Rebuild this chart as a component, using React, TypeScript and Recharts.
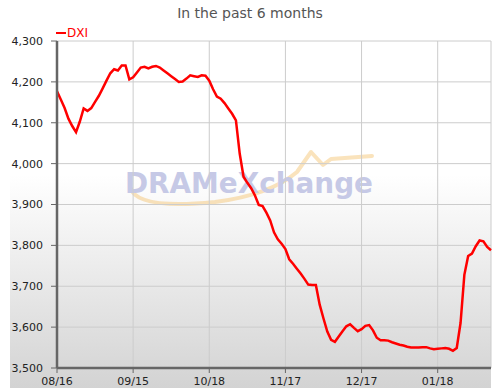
import { LineChart, Line, XAxis, YAxis, CartesianGrid } from 'recharts';

// tick labels sit every 20 trading days
const xLabels = ['08/16', '09/15', '10/18', '11/17', '12/17', '01/18'];
const xTicks = [0, 20, 40, 60, 80, 100];
const yTicks = [3500, 3600, 3700, 3800, 3900, 4000, 4100, 4200, 4300];

// DXI daily values
const dxi = [
  4177, 4157, 4136, 4110, 4092, 4077, 4103, 4135, 4129, 4136,
  4151, 4166, 4184, 4203, 4221, 4231, 4228, 4240, 4240, 4206,
  4211, 4223, 4235, 4237, 4233, 4237, 4239, 4235, 4228, 4221,
  4214, 4207, 4200, 4201, 4208, 4216, 4214, 4212, 4216, 4215,
  4203, 4182, 4164, 4159, 4148, 4135, 4122, 4106, 4024, 3968,
  3953, 3940, 3922, 3899, 3896, 3880, 3861, 3832, 3815, 3804,
  3791, 3766, 3755, 3743, 3731, 3718, 3704, 3703, 3703, 3655,
  3621, 3589, 3569, 3564, 3577, 3590, 3602, 3607, 3598, 3590,
  3595, 3603, 3605, 3592, 3574, 3568, 3568, 3567, 3563, 3560,
  3557, 3555, 3552, 3550, 3550, 3550, 3551, 3551, 3548, 3546,
  3547, 3548, 3549, 3547, 3542, 3549, 3610, 3728, 3774, 3780,
  3798, 3812, 3810, 3796, 3788,
];

const COLORS = {
  line: '#ff0000',
  grid: '#cccccc',
  axis: '#666666',
  text: '#222222',
  title: '#555555',
  mark: '#c6c9e6',
};

const FONT = '"DejaVu Sans", Verdana, sans-serif';

function Watermark() {
  return (
    <svg width={500} height={391} style={{ position: 'absolute', left: 0, top: 0 }}>
      <path
        d="M130,187 Q136,210 215,202 Q270,195 297,172 L311,152 L323,165 L331,159 L372,156"
        fill="none"
        stroke="#f4c06a"
        strokeOpacity={0.45}
        strokeWidth={4}
        strokeLinecap="round"
        strokeLinejoin="round"
      />
      <text
        x={125}
        y={193}
        fontFamily={FONT}
        fontWeight="bold"
        fontSize={29}
        fill={COLORS.mark}
        textLength={248}
        lengthAdjust="spacingAndGlyphs"
      >
        DRAMeXchange
      </text>
    </svg>
  );
}

export default function App() {
  const data = dxi.map((v, i) => ({ i, v }));

  return (
    <div style={{ position: 'absolute', left: 0, top: 0, width: 500, height: 391, background: '#fff' }}>
      <div
        style={{
          position: 'absolute',
          left: 10,
          top: 0,
          width: 481,
          height: 388,
          background: 'linear-gradient(to bottom, #ffffff 0%, #ffffff 45%, #d3d3d3 100%)',
        }}
      />
      <Watermark />
      <div style={{ position: 'absolute', left: 0, top: 0 }}>
        <LineChart width={500} height={391} data={data} margin={{ top: 41, right: 9, bottom: 0, left: 0 }}>
          <CartesianGrid stroke={COLORS.grid} />
          <XAxis
            dataKey="i"
            type="number"
            domain={[0, 114]}
            ticks={xTicks}
            tickFormatter={(v: number) => xLabels[xTicks.indexOf(v)] ?? ''}
            height={23}
            tickSize={5}
            tickMargin={4}
            stroke={COLORS.axis}
            axisLine={{ stroke: COLORS.axis, strokeWidth: 2.5 }}
            tick={{ fill: COLORS.text, fontSize: 11, fontFamily: FONT }}
            interval={0}
          />
          <YAxis
            domain={[3500, 4300]}
            ticks={yTicks}
            tickFormatter={(v: number) => v.toLocaleString('en-US')}
            width={57}
            tickSize={6}
            tickMargin={8}
            stroke={COLORS.axis}
            axisLine={{ stroke: COLORS.axis, strokeWidth: 2.5 }}
            tick={{ fill: COLORS.text, fontSize: 11, fontFamily: FONT }}
            interval={0}
          />
          <Line
            type="linear"
            dataKey="v"
            stroke={COLORS.line}
            strokeWidth={2.5}
            dot={false}
            activeDot={false}
            isAnimationActive={false}
          />
        </LineChart>
      </div>
      <div
        style={{
          position: 'absolute',
          left: 0,
          top: 5,
          width: 500,
          textAlign: 'center',
          fontFamily: FONT,
          fontSize: 14,
          color: COLORS.title,
        }}
      >
        In the past 6 months
      </div>
      <div
        style={{
          position: 'absolute',
          left: 56,
          top: 26,
          display: 'flex',
          alignItems: 'center',
          fontFamily: FONT,
          fontSize: 12,
          color: COLORS.line,
        }}
      >
        <span style={{ display: 'inline-block', width: 10, height: 2, background: COLORS.line, marginRight: 1 }} />
        DXI
      </div>
    </div>
  );
}
